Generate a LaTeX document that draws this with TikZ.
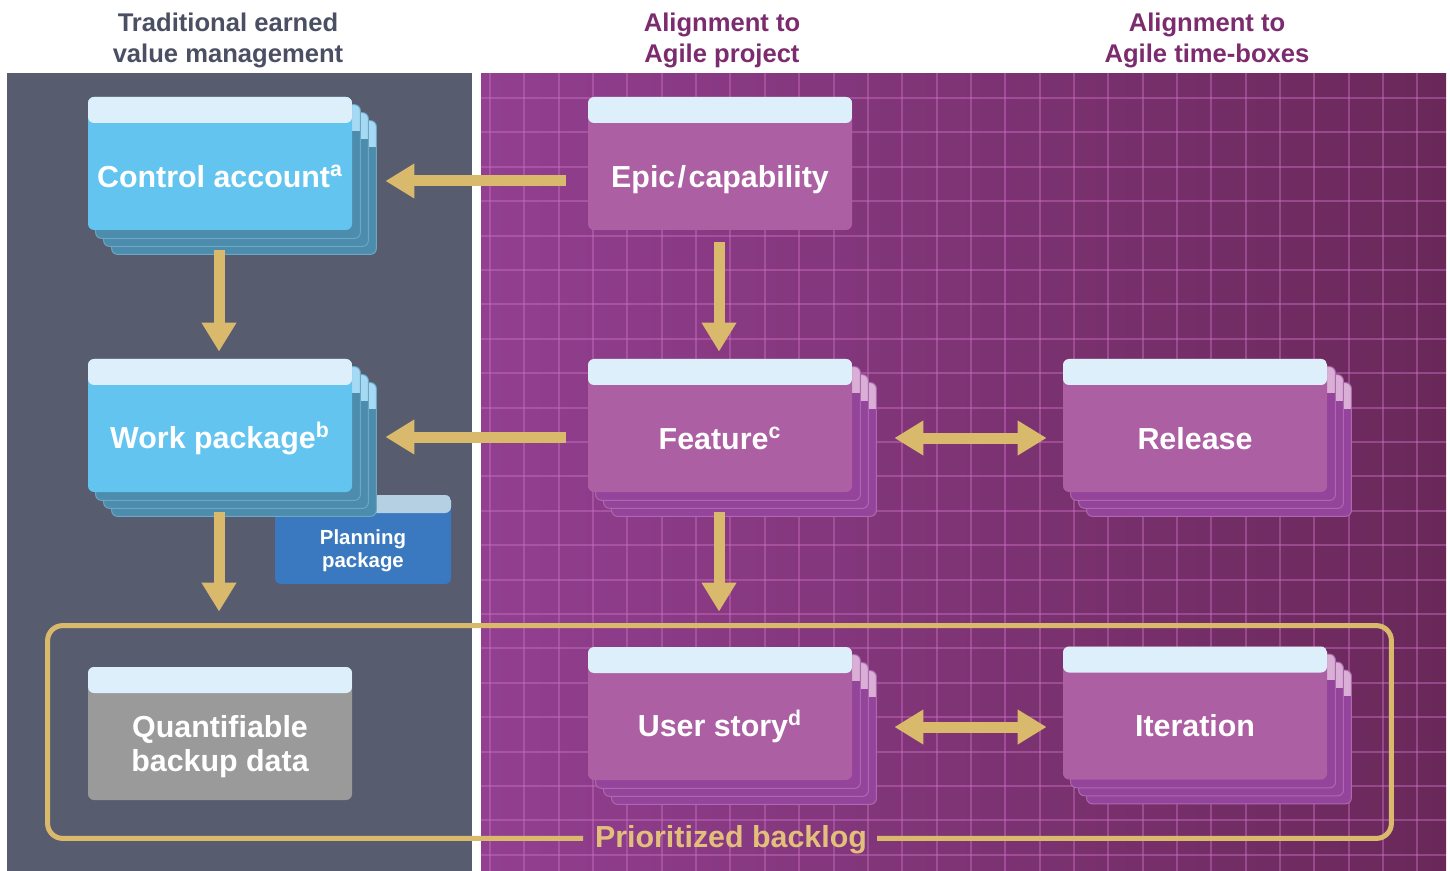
\documentclass[tikz,border=0pt]{standalone}
\usepackage{fontspec}
\setmainfont{Liberation Sans}
\usetikzlibrary{arrows.meta,calc}
\pgfdeclarelayer{bg}\pgfdeclarelayer{low}\pgfdeclarelayer{stk}
\pgfsetlayers{bg,low,stk,main}
\definecolor{slate}{HTML}{575C6F}
\definecolor{slatetext}{HTML}{4B4F63}
\definecolor{plum}{HTML}{7B2B6E}
\definecolor{bgleft}{HTML}{923F90}
\definecolor{bgright}{HTML}{6A2859}
\definecolor{gridc}{HTML}{C96EC2}
\definecolor{gold}{HTML}{D9B96C}
\definecolor{goldtext}{HTML}{E2C07C}
\definecolor{headc}{HTML}{DDEFFA}
\definecolor{bluec}{HTML}{63C4F0}
\definecolor{bluestk}{HTML}{4C8CAD}
\definecolor{bluestkhead}{HTML}{A6DAF4}
\definecolor{purplec}{HTML}{AC5FA2}
\definecolor{purplestk}{HTML}{94449A}
\definecolor{purplestkhead}{HTML}{D9AFD6}
\definecolor{grayc}{HTML}{9A9A9A}
\definecolor{ppbody}{HTML}{3A79C0}
\definecolor{pphead}{HTML}{B4D0E2}
\tikzset{
  card/.style={rectangle, rounded corners=3pt, minimum width=132pt, minimum height=66.5pt,
    inner sep=0pt, fill=#1,
    path picture={\fill[headc] (path picture bounding box.north west) rectangle ([yshift=-13pt]path picture bounding box.north east);}},
  cardtext/.style={font=\bfseries\fontsize{15.2}{17}\selectfont, text=white, align=center, yshift=-6.5pt},
  headtext/.style={font=\bfseries\fontsize{12.8}{15.5}\selectfont, align=center},
  blockarrow/.style={draw=gold, line width=5.5pt, -{Triangle[length=14.5pt,width=16.5pt]}},
  dblarrow/.style={draw=gold, line width=5.5pt, {Triangle[length=14.5pt,width=16.5pt]}-{Triangle[length=14.5pt,width=16.5pt]}},
  gridline/.style={draw=gridc, draw opacity=0.45, line width=1pt},
}
\newcommand\cardstack[3]{%
  \begin{pgfonlayer}{stk}
  \foreach \k in {3,2,1}{
    \begin{scope}
      \clip[rounded corners=3pt] ($(#1.north west)+(8*\k,8*\k)$) rectangle ($(#1.south east)+(8*\k,8*\k)$);
      \fill[#2] ($(#1.north west)+(8*\k,8*\k)$) rectangle ($(#1.south east)+(8*\k,8*\k)$);
      \fill[#3] ($(#1.north west)+(8*\k,8*\k)$) rectangle ($(#1.north east)+(8*\k,8*\k+26)$);
    \end{scope}
    \draw[rounded corners=3pt, draw=#3!35!#2, line width=0.5pt] ($(#1.north west)+(8*\k,8*\k)$) rectangle ($(#1.south east)+(8*\k,8*\k)$);
  }
  \end{pgfonlayer}}
\begin{document}
\begin{tikzpicture}[x=0.5pt,y=-0.5pt]
\useasboundingbox (0,0) rectangle (1450,871);
\begin{pgfonlayer}{bg}
  \fill[white] (0,0) rectangle (1450,871);
  \fill[slate] (7,73) rectangle (472,871);
  \begin{scope}
    \clip (481,73) rectangle (1446,871);
    \foreach \s in {0,...,192}{
      \pgfmathsetmacro\pc{\s/1.92}
      \fill[bgright!\pc!bgleft] (481+5*\s,73) rectangle (481+5*\s+6,871);
    }
    \foreach \i in {0,...,27} \draw[gridline] (490+34.35*\i,73) -- (490+34.35*\i,871);
    \foreach \j in {0,...,22} \draw[gridline] (481,98+34.4*\j) -- (1446,98+34.4*\j);
  \end{scope}
\end{pgfonlayer}

% column headers
\node[headtext, text=slatetext] (h1) at (228,40.5) {Traditional earned\\value management};
\node[headtext, text=plum] (h2) at (722,40.5) {Alignment to\\Agile project};
\node[headtext, text=plum] (h3) at (1207,40.5) {Alignment to\\Agile time-boxes};

% cards
\node[card=bluec, label={[cardtext]center:Control account\textsuperscript{a}}] (ca) at (220,163.5) {};
\node[card=bluec, label={[cardtext]center:Work package\textsuperscript{b}}] (wp) at (220,425.5) {};
\node[card=grayc, label={[cardtext]center:Quantifiable\\backup data}] (qb) at (220,733.5) {};
\node[card=purplec, label={[cardtext, yshift=-1.5pt]center:Epic\hspace{1.2pt}/\hspace{1.2pt}capability}] (epic) at (720,163.5) {};
\node[card=purplec, label={[cardtext]center:Feature\textsuperscript{c}}] (feat) at (720,425.5) {};
\node[card=purplec, label={[cardtext]center:Release}] (rel) at (1195,425.5) {};
\node[card=purplec, label={[cardtext]center:User story\textsuperscript{d}}] (us) at (720,713.5) {};
\node[card=purplec, label={[cardtext]center:Iteration}] (it) at (1195,713) {};

\cardstack{ca}{bluestk}{bluestkhead}
\cardstack{wp}{bluestk}{bluestkhead}
\cardstack{feat}{purplestk}{purplestkhead}
\cardstack{rel}{purplestk}{purplestkhead}
\cardstack{us}{purplestk}{purplestkhead}
\cardstack{it}{purplestk}{purplestkhead}

% planning package
\begin{pgfonlayer}{low}
\node[rectangle, rounded corners=3pt, minimum width=88pt, minimum height=44.5pt, inner sep=0pt, fill=ppbody,
  path picture={\fill[pphead] (path picture bounding box.north west) rectangle ([yshift=-9pt]path picture bounding box.north east);},
  label={[font=\bfseries\fontsize{10.2}{11.5}\selectfont, text=white, align=center, yshift=-5.5pt]center:Planning\\package}] (pp) at (363,539.5) {};
\end{pgfonlayer}

% backlog frame
\node[rectangle, minimum width=671.5pt, minimum height=106pt, inner sep=0pt] (backlog) at (719.5,732) {};
\draw[gold, line width=2.5pt, rounded corners=7.5pt]
  ($(backlog.south)+(-136.5,0)$) -- (backlog.south west) -- (backlog.north west)
  -- (backlog.north east) -- (backlog.south east) -- ($(backlog.south)+(157.5,0)$);
\node[font=\bfseries\fontsize{15.2}{17}\selectfont, text=goldtext] (bltext) at ($(backlog.south)+(11.5,1)$) {Prioritized backlog};

% arrows
\draw[blockarrow] ($(epic.west)+(-22,17.5)$) -- ($(ca.east)+(33,17.5)$);
\draw[blockarrow] ($(feat.west)+(-22,11.5)$) -- ($(wp.east)+(33,11.5)$);
\draw[blockarrow] ($(ca.south)+(-1,20)$) -- ($(wp.north)+(-1,-7)$);
\draw[blockarrow] ($(wp.south)+(-1,20)$) -- ($(backlog.north)+(-500.5,-14)$);
\draw[blockarrow] ($(epic.south)+(-1,12)$) -- ($(feat.north)+(-1,-7)$);
\draw[blockarrow] ($(feat.south)+(-1,20)$) -- ($(backlog.north)+(-0.5,-14)$);
\draw[dblarrow] ($(feat.east)+(42,12.5)$) -- ($(rel.west)+(-16,12.5)$);
\draw[dblarrow] ($(us.east)+(42,13.5)$) -- ($(it.west)+(-16,14)$);
\end{tikzpicture}
\end{document}
